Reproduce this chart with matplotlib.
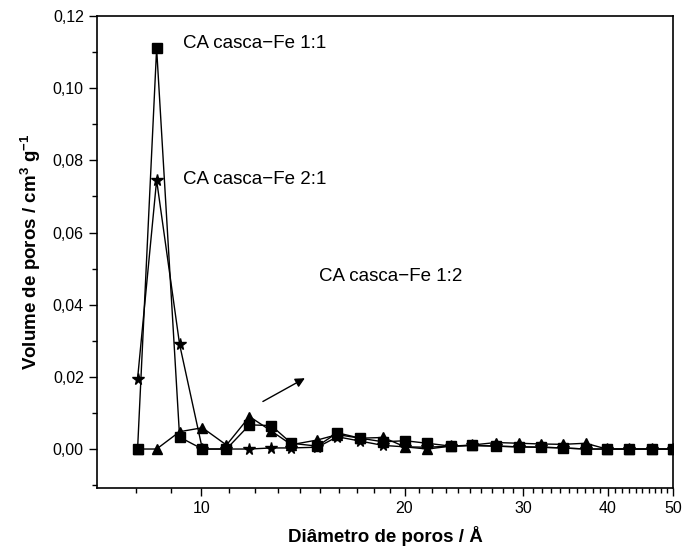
import matplotlib
matplotlib.use("Agg")
import matplotlib.pyplot as plt
from matplotlib.ticker import FixedLocator, FuncFormatter, MultipleLocator, NullFormatter

plt.rcParams['font.family'] = ['Liberation Sans', 'DejaVu Sans']
plt.rcParams['mathtext.fontset'] = 'custom'
plt.rcParams['mathtext.bf'] = 'Liberation Sans:bold'
plt.rcParams['mathtext.rm'] = 'Liberation Sans'
plt.rcParams['mathtext.default'] = 'bf'

# Pore diameters (Å)
diam = [8.04, 8.58, 9.28, 10.03, 10.89, 11.78, 12.69, 13.59, 14.85, 15.90,
        17.19, 18.59, 20.04, 21.60, 23.43, 25.17, 27.32, 29.54, 31.84, 34.31,
        37.11, 39.86, 42.97, 46.47, 49.92]

fe_1_1 = [0.0, 0.111, 0.0033, 0.0, 0.0, 0.0067, 0.0065, 0.0016, 0.0008, 0.0045,
          0.0030, 0.0020, 0.0023, 0.0016, 0.0008, 0.0010, 0.0008, 0.0006, 0.0005,
          0.0003, 0.0, 0.0, 0.0, 0.0, 0.0]
fe_2_1 = [0.0195, 0.0745, 0.029, 0.0, 0.0, 0.0, 0.0003, 0.0003, 0.0005, 0.0034,
          0.0022, 0.0010, 0.0006, 0.0005, 0.0008, 0.0010, 0.0008, 0.0006, 0.0005,
          0.0003, 0.0, 0.0, 0.0, 0.0, 0.0]
fe_1_2 = [0.0, 0.0, 0.0048, 0.0059, 0.0011, 0.0090, 0.0050, 0.0012, 0.0025, 0.0040,
          0.0030, 0.0032, 0.0006, 0.0, 0.0008, 0.0011, 0.0018, 0.0016, 0.0014,
          0.0013, 0.0016, 0.0, 0.0, 0.0, 0.0]

x_major = [10, 20, 30, 40, 50]
x_minor = [v for v in range(8, 50) if v not in x_major]
y_major = [0.00, 0.02, 0.04, 0.06, 0.08, 0.10, 0.12]

fig = plt.figure(figsize=(6.85, 5.52), dpi=100)
ax = fig.add_axes([97/685, 1-488/552, (673-97)/685, (488-16)/552])

ax.plot(diam, fe_1_1, color='black', lw=1, marker='s', ms=6.5)
ax.plot(diam, fe_2_1, color='black', lw=1, marker='*', ms=8.5)
ax.plot(diam, fe_1_2, color='black', lw=1, marker='^', ms=7.5)

ax.set_xscale('log')
ax.set_xlim(7.0, 50)
ax.set_ylim(-0.0108, 0.12)

ax.xaxis.set_major_locator(FixedLocator(x_major))
ax.xaxis.set_minor_locator(FixedLocator(x_minor))
ax.xaxis.set_major_formatter(FuncFormatter(lambda v, p: f"{v:g}"))
ax.xaxis.set_minor_formatter(NullFormatter())
ax.yaxis.set_major_locator(FixedLocator(y_major))
ax.yaxis.set_minor_locator(MultipleLocator(0.01))
ax.yaxis.set_major_formatter(FuncFormatter(lambda v, p: f"{v:.2f}".replace('.', ',')))

ax.tick_params(which='both', direction='out', top=False, right=False, labelsize=11.5)
ax.tick_params(which='major', length=6, width=1)
ax.tick_params(which='minor', length=3.5, width=1)
for s in ax.spines.values():
    s.set_linewidth(1.2)

ax.set_xlabel("Diâmetro de poros / Å", fontsize=13.5, fontweight='bold', labelpad=7)
ax.set_ylabel(r"Volume de poros / cm$^{3}$ g$^{-1}$", fontsize=13.5, fontweight='bold', labelpad=7)

ax.text(9.40, 0.1125, "CA casca−Fe 1:1", fontsize=13.5, va='center', ha='left')
ax.text(9.40, 0.0747, "CA casca−Fe 2:1", fontsize=13.5, va='center', ha='left')
ax.text(14.95, 0.0478, "CA casca−Fe 1:2", fontsize=13.5, va='center', ha='left')
ax.annotate("", xy=(14.35, 0.0200), xytext=(12.23, 0.0128),
            arrowprops=dict(arrowstyle='-|>', color='black', lw=1, mutation_scale=14))

fig.savefig("out.png", dpi=100)
